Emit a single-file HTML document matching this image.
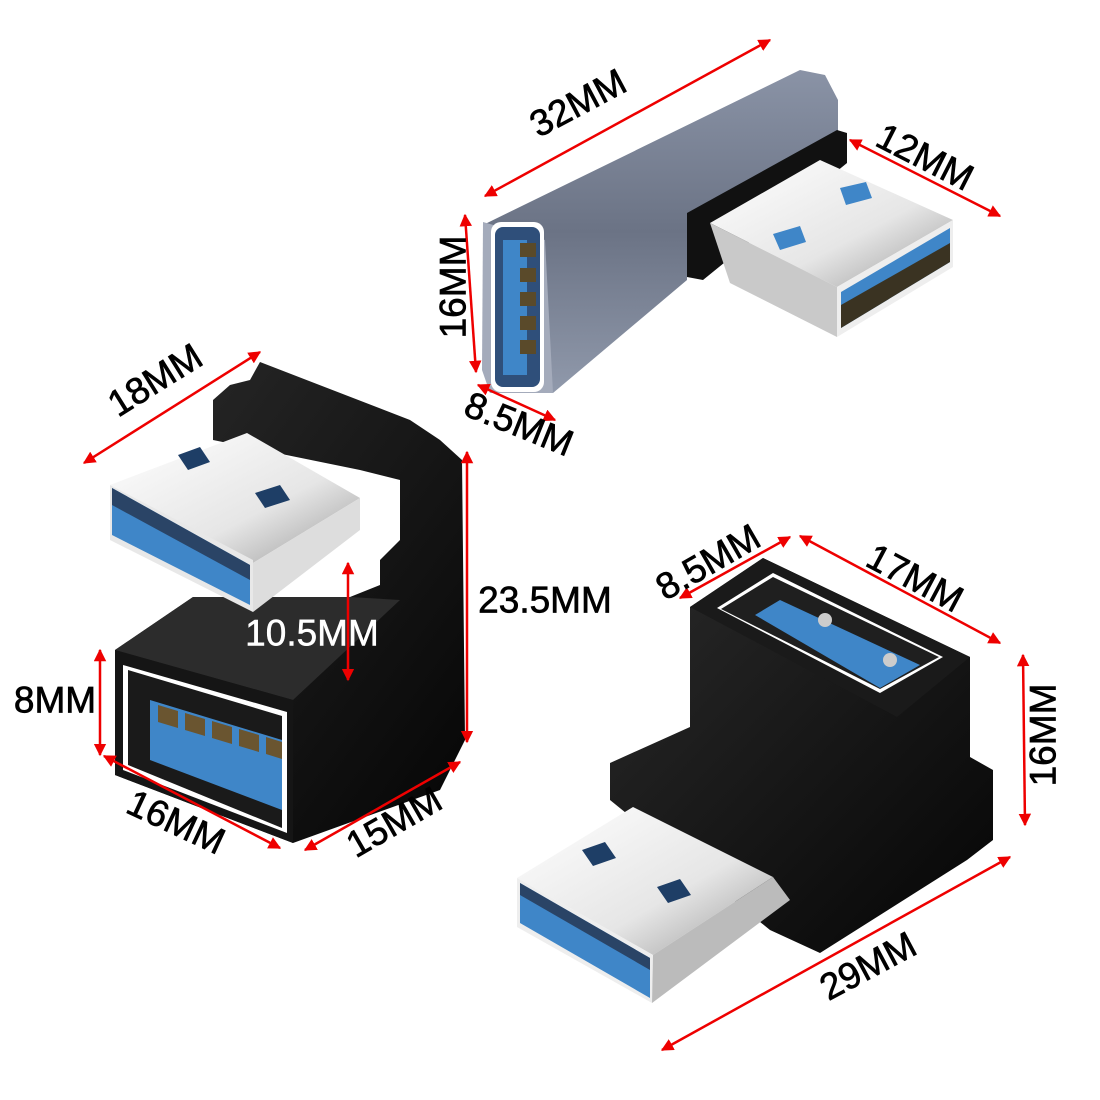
<!DOCTYPE html>
<html><head><meta charset="utf-8"><style>html,body{margin:0;padding:0;background:#fff}svg{display:block}</style></head>
<body>
<svg width="1100" height="1100" viewBox="0 0 1100 1100" xmlns="http://www.w3.org/2000/svg">
<defs>
<marker id="a" viewBox="0 0 10 10" refX="9" refY="5" markerWidth="5" markerHeight="5" orient="auto-start-reverse"><path d="M0,0L10,5L0,10z" fill="#e00"/></marker>
<linearGradient id="gb" x1="0" y1="0" x2="0" y2="1"><stop offset="0" stop-color="#8a93a6"/><stop offset="0.5" stop-color="#6b7385"/><stop offset="1" stop-color="#9099ab"/></linearGradient>
<linearGradient id="sv" x1="0" y1="0" x2="1" y2="1"><stop offset="0" stop-color="#fff"/><stop offset="0.6" stop-color="#e6e6e6"/><stop offset="1" stop-color="#9a9a9a"/></linearGradient>
<linearGradient id="bk" x1="0" y1="0" x2="1" y2="1"><stop offset="0" stop-color="#2a2a2a"/><stop offset="1" stop-color="#050505"/></linearGradient>
</defs>

<!-- TOP ADAPTER -->
<polygon points="483,225 800,70 825,75 838,100 838,140 687,215 687,280 553,393 490,393 483,370" fill="url(#gb)"/>
<polygon points="483,222 545,240 553,393 490,393 482,370" fill="#a4abbb"/>
<rect x="491" y="222" width="53" height="170" rx="10" fill="#fff"/>
<rect x="495" y="227" width="45" height="160" rx="8" fill="#2f4f7a"/>
<rect x="503" y="240" width="24" height="135" fill="#3f86c8"/>
<g fill="#5a4a2a"><rect x="520" y="243" width="16" height="14"/><rect x="520" y="268" width="16" height="14"/><rect x="520" y="292" width="16" height="14"/><rect x="520" y="316" width="16" height="14"/><rect x="520" y="340" width="16" height="14"/></g>
<polygon points="687,213 837,130 847,133 847,163 703,280 687,277" fill="#111"/>
<polygon points="710,223 820,160 953,220 837,287" fill="url(#sv)"/>
<polygon points="710,223 837,287 837,337 730,283" fill="#c9c9c9"/>
<polygon points="837,287 953,220 953,267 837,337" fill="#eee"/>
<polygon points="841,292 950,228 950,262 841,328" fill="#3f86c8"/>
<polygon points="841,305 950,243 950,262 841,328" fill="#3a3322"/>
<polygon points="773,234 800,226 806,242 780,250" fill="#3f86c8"/>
<polygon points="840,188 866,182 872,198 846,205" fill="#3f86c8"/>

<!-- LEFT U ADAPTER -->
<polygon points="213,400 230,385 250,380 260,362 410,420 440,440 462,460 465,740 440,790 293,843 115,775 115,650 193,597 350,597 380,585 380,560 400,540 400,480 360,470 213,440" fill="url(#bk)"/>
<polygon points="115,650 193,597 350,597 400,600 293,700" fill="#2c2c2c"/>
<polygon points="115,650 293,700 293,843 115,775" fill="#151515"/>
<polygon points="123,665 287,712 287,833 123,770" fill="#fff"/>
<polygon points="128,670 282,716 282,828 128,765" fill="#1a1a1a"/>
<polygon points="150,700 282,740 282,810 150,760" fill="#3f86c8"/>
<g fill="#6a5530"><polygon points="158,705 178,711 178,728 158,722"/><polygon points="185,713 205,719 205,736 185,730"/><polygon points="212,721 232,727 232,744 212,738"/><polygon points="239,729 259,735 259,752 239,746"/><polygon points="266,737 282,742 282,759 266,754"/></g>
<polygon points="110,485 247,433 360,498 253,563" fill="url(#sv)"/>
<polygon points="110,485 253,560 253,612 110,540" fill="#e8e8e8"/>
<polygon points="112,488 250,565 250,605 112,535" fill="#3f86c8"/>
<polygon points="112,488 250,565 250,580 112,505" fill="#2a4466"/>
<polygon points="253,563 360,498 360,530 253,612" fill="#ddd"/>
<polygon points="178,455 200,447 210,462 188,470" fill="#1e3e66"/>
<polygon points="255,493 280,485 290,500 265,508" fill="#1e3e66"/>

<!-- RIGHT ADAPTER -->
<polygon points="690,607 763,558 970,657 970,757 993,770 993,840 967,860 820,953 770,930 610,800 610,763 690,727" fill="url(#bk)"/>
<polygon points="690,607 763,558 970,657 897,717" fill="#1a1a1a"/>
<polygon points="717,608 773,573 943,657 880,693" fill="#fff"/>
<polygon points="721,609 773,577 939,657 880,689" fill="#1f1f1f"/>
<polygon points="755,615 780,600 920,665 880,688" fill="#3f86c8"/>
<circle cx="825" cy="620" r="7" fill="#ccc"/><circle cx="890" cy="660" r="7" fill="#ccc"/>
<polygon points="517,878 633,807 773,877 653,955" fill="url(#sv)"/>
<polygon points="517,878 653,955 652,1003 517,927" fill="#eee"/>
<polygon points="520,883 650,958 650,998 520,923" fill="#3f86c8"/>
<polygon points="520,883 650,958 650,970 520,895" fill="#2a4466"/>
<polygon points="653,955 773,877 790,900 652,1003" fill="#bbb"/>
<polygon points="582,850 605,842 616,858 593,866" fill="#1e3e66"/>
<polygon points="657,887 680,879 691,895 668,903" fill="#1e3e66"/>

<!-- DIMENSION LINES -->
<g stroke="#e00" stroke-width="2.5" fill="none" marker-start="url(#a)" marker-end="url(#a)">
<line x1="485" y1="196" x2="770" y2="40"/>
<line x1="850" y1="140" x2="1000" y2="216"/>
<line x1="465" y1="215" x2="476" y2="372"/>
<line x1="478" y1="385" x2="555" y2="420"/>
<line x1="84" y1="463" x2="260" y2="352"/>
<line x1="348" y1="563" x2="348" y2="680"/>
<line x1="467" y1="452" x2="467" y2="742"/>
<line x1="100" y1="650" x2="100" y2="755"/>
<line x1="104" y1="756" x2="280" y2="848"/>
<line x1="305" y1="850" x2="460" y2="762"/>
<line x1="680" y1="598" x2="790" y2="537"/>
<line x1="800" y1="536" x2="1000" y2="643"/>
<line x1="1023" y1="655" x2="1025" y2="825"/>
<line x1="662" y1="1050" x2="1010" y2="857"/>
</g>

<g font-family="Liberation Sans, sans-serif" font-size="37" fill="#000" stroke="#000" stroke-width="0.7" text-anchor="middle" dominant-baseline="central">
<text transform="translate(578,103) rotate(-28)">32MM</text>
<text transform="translate(925,157) rotate(27)">12MM</text>
<text transform="translate(453,287) rotate(-90)">16MM</text>
<text transform="translate(519,424) rotate(22)">8.5MM</text>
<text transform="translate(155,380) rotate(-32)">18MM</text>
<text x="312" y="633" fill="#fff" stroke="#fff" stroke-width="0.5">10.5MM</text>
<text x="545" y="600">23.5MM</text>
<text x="55" y="700">8MM</text>
<text transform="translate(176,822) rotate(25)">16MM</text>
<text transform="translate(394,822) rotate(-30)">15MM</text>
<text transform="translate(708,562) rotate(-30)">8.5MM</text>
<text transform="translate(915,578) rotate(28)">17MM</text>
<text transform="translate(1043,735) rotate(-90)">16MM</text>
<text transform="translate(868,966) rotate(-28)">29MM</text>
</g>
</svg>
</body></html>
